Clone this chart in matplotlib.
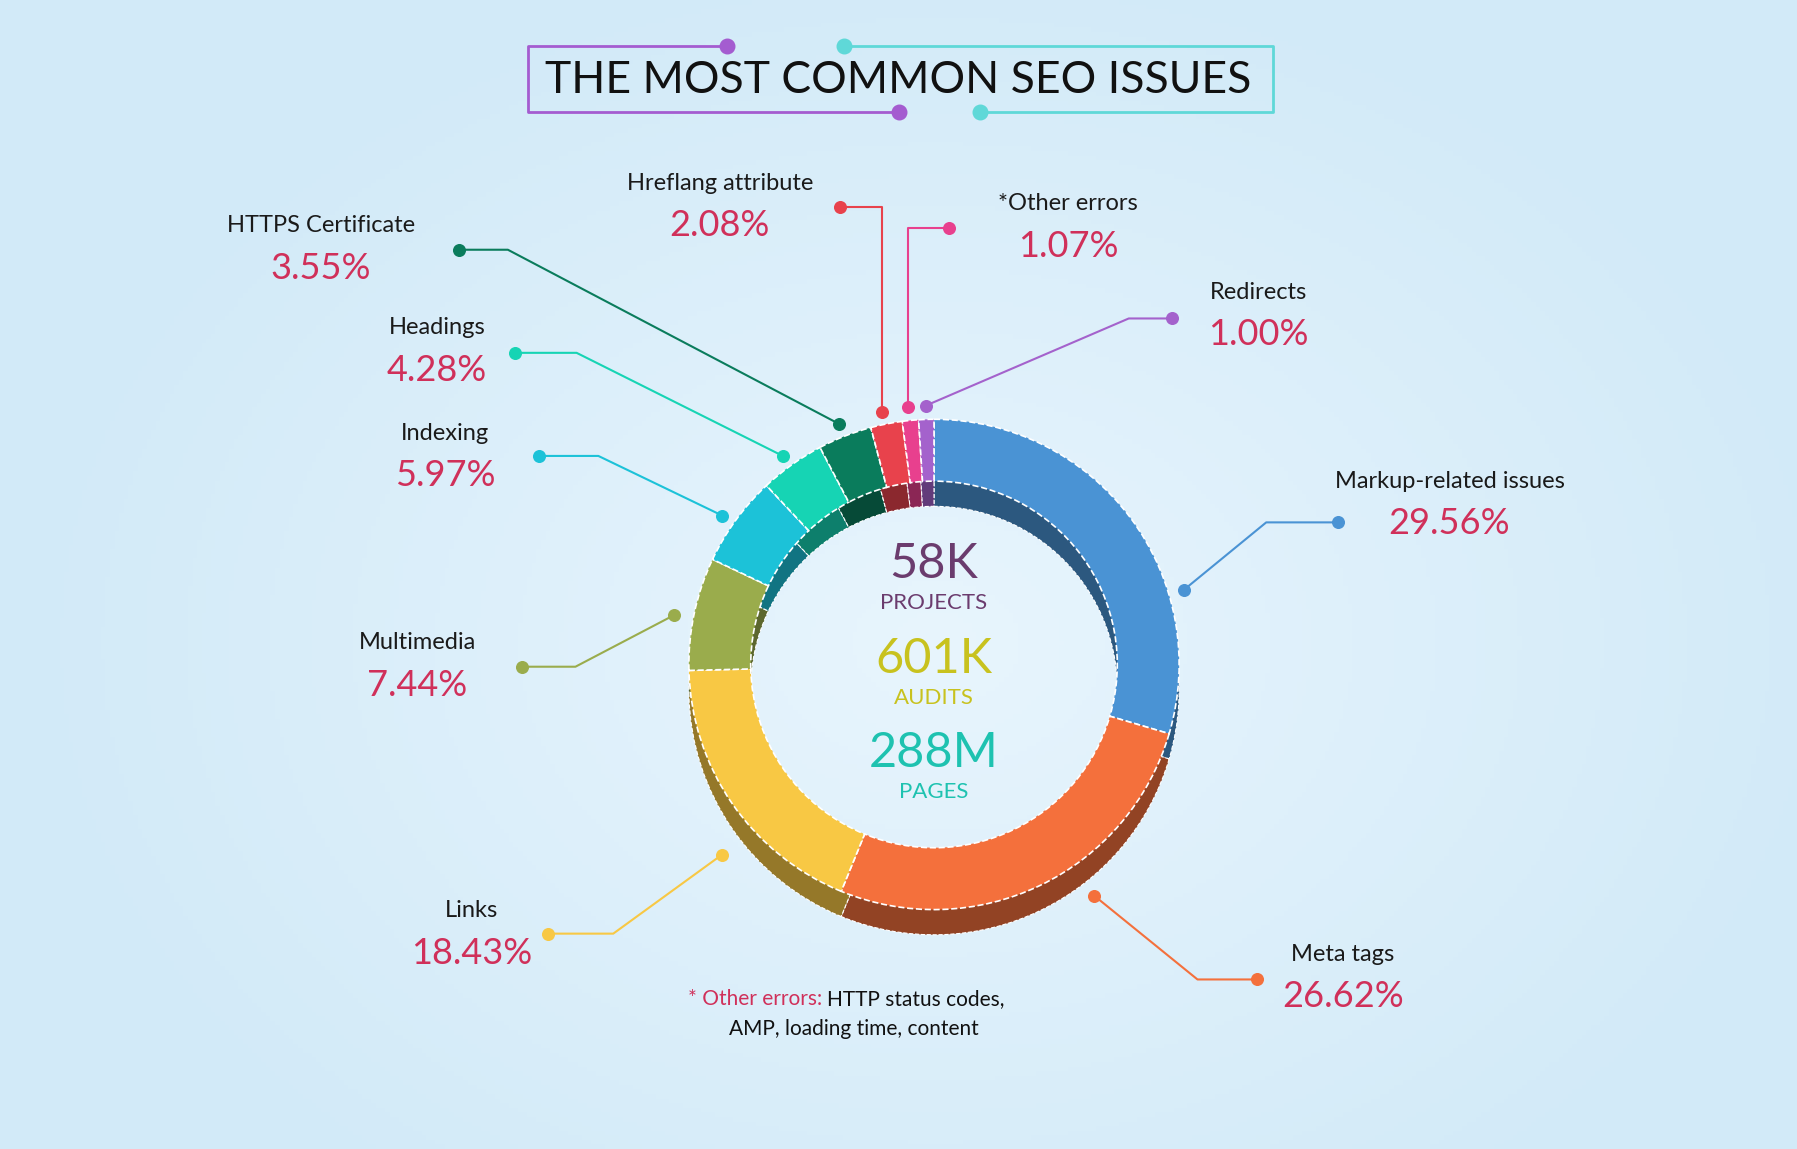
import numpy as np
import matplotlib
matplotlib.use("Agg")
import matplotlib.pyplot as plt
from matplotlib.colors import to_rgb

plt.rcParams['font.family'] = ['Lato', 'DejaVu Sans']

categories = ["Markup-related issues", "Meta tags", "Links", "Multimedia", "Indexing",
              "Headings", "HTTPS Certificate", "Hreflang attribute", "*Other errors", "Redirects"]
values = [29.56, 26.62, 18.43, 7.44, 5.97, 4.28, 3.55, 2.08, 1.07, 1.00]
colors = ["#4a93d4", "#f4703c", "#f8c844", "#9aac4c", "#1cc2d8", "#16d4b4", "#0a7c5c",
          "#e8424c", "#e8408e", "#a462cc"]
center_nums = ["58K", "601K", "288M"]
center_words = ["PROJECTS", "AUDITS", "PAGES"]
center_cols = ["#6b3c6e", "#c8c21e", "#1ec2b0"]

# layout for labels: (start, elbow, dot, text centre)
layout = [
    ((1033, 515), (1105, 456), (1168, 456), (1265, 420)),
    ((955, 782), (1045, 855), (1097, 855), (1172, 833)),
    ((630, 746), (535, 815), (478, 815), (411, 795)),
    ((588, 537), (502, 582), (455, 582), (364, 561)),
    ((630, 450), (522, 398), (470, 398), (388, 378)),
    ((683, 398), (503, 308), (449, 308), (381, 286)),
    ((732, 370), (443, 218), (400, 218), (280, 197)),
    ((770, 360), (770, 181), (733, 181), (628, 160)),
    ((792, 355), (792, 199), (828, 199), (932, 178)),
    ((808, 354), (985, 278), (1023, 278), (1098, 255)),
]

W, H = 1568, 1003
fig = plt.figure(figsize=(17.97, 11.49), dpi=100)
ax = fig.add_axes([0, 0, 1, 1])

# background radial gradient
yy, xx = np.mgrid[0:H:4, 0:W:4]
d = np.sqrt(((xx - 815) / 800) ** 2 + ((yy - 560) / 600) ** 2)
d = np.clip(d, 0, 1)[..., None]
c0 = np.array(to_rgb("#e8f5fd")); c1 = np.array(to_rgb("#d2eaf8"))
ax.imshow(c0 * (1 - d) + c1 * d, extent=[0, W, H, 0], zorder=0, aspect='auto')

cx, cy, R, w = 815, 580, 214, 54
dark = [tuple(np.array(to_rgb(c)) * 0.6) for c in colors]
ax.pie(values, colors=dark, startangle=-90, counterclock=True, center=(cx, cy + 22), radius=R,
       wedgeprops=dict(width=w, edgecolor='white', linewidth=0.8, linestyle='--'), frame=True)
wed, _ = ax.pie(values, colors=colors, startangle=-90, counterclock=True, center=(cx, cy), radius=R,
                wedgeprops=dict(width=w, edgecolor='white', linewidth=1.2, linestyle='--'), frame=True)
for wd in wed:
    wd.set_zorder(3)
ax.set_xlim(0, W); ax.set_ylim(H, 0); ax.axis('off')

for cat, v, col, (s, e, dt, t) in zip(categories, values, colors, layout):
    ax.plot([s[0], e[0], dt[0]], [s[1], e[1], dt[1]], color=col, lw=1.5, zorder=4)
    ax.scatter([s[0], dt[0]], [s[1], dt[1]], s=70, color=col, zorder=5)
    ax.text(t[0], t[1], cat, ha='center', va='center', fontsize=17, color='#1a1a1a', zorder=5)
    ax.text(t[0], t[1] + 37, f"{v:.2f}%", ha='center', va='center', fontsize=26, color='#d0305a', zorder=5)

ys = [492, 575, 657]
for n, wd_, c, y in zip(center_nums, center_words, center_cols, ys):
    ax.text(cx, y, n, ha='center', va='center', fontsize=35, color=c, zorder=6)
    ax.text(cx, y + 34, wd_, ha='center', va='center', fontsize=16, color=c, zorder=6)

# title box
pur, cya = "#a45cd0", "#5fd8d8"
ax.plot([634, 461, 461, 784], [40, 40, 98, 98], color=pur, lw=2, zorder=4)
ax.plot([736, 1111, 1111, 855], [40, 40, 98, 98], color=cya, lw=2, zorder=4)
ax.scatter([634, 784], [40, 98], s=110, color=pur, zorder=5)
ax.scatter([736, 855], [40, 98], s=110, color=cya, zorder=5)
ax.text(784, 70, "THE MOST COMMON SEO ISSUES", ha='center', va='center', fontsize=32,
        color='#111111', zorder=5)

# footnote
ax.text(722, 872, "* Other errors: ", ha='right', va='center', fontsize=15, color='#d0305a')
ax.text(722, 872, "HTTP status codes,", ha='left', va='center', fontsize=15, color='#111111')
ax.text(745, 898, "AMP, loading time, content", ha='center', va='center', fontsize=15, color='#111111')

fig.savefig("out.png", dpi=100)
